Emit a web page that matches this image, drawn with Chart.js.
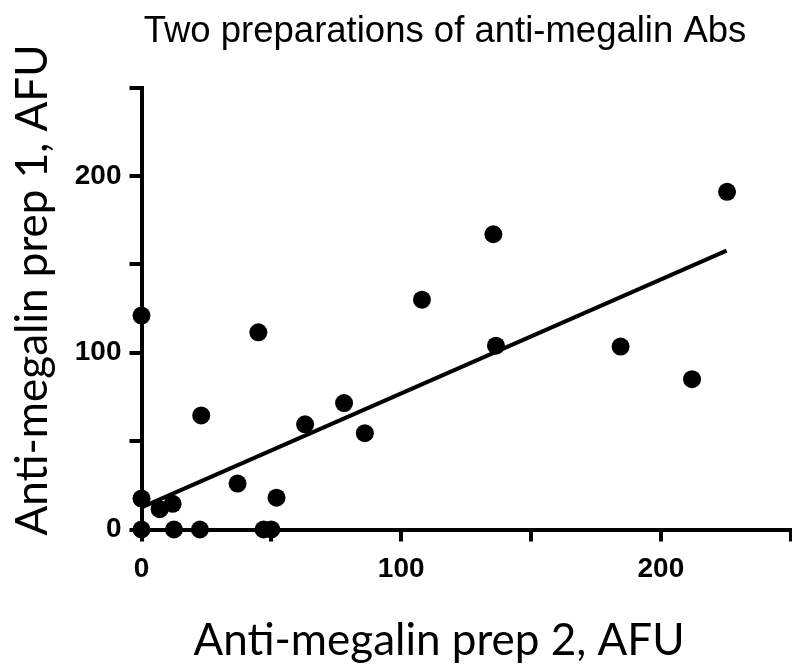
<!DOCTYPE html>
<html>
<head>
<meta charset="utf-8">
<script src="https://cdn.jsdelivr.net/npm/chart.js@4"></script>
<style>
  html, body { margin: 0; padding: 0; background: #fff; }
  #wrap { width: 792px; height: 667px; }
</style>
</head>
<body>
<div id="wrap"><canvas id="scatter" width="792" height="667"></canvas></div>
<script>
// prep 2 (x) vs prep 1 (y)
const prep2 = [0, 45, 23, 37, 52, 0, 7, 12, 0, 12.5, 22.5, 47, 50, 108, 136.5, 78, 63, 86, 225.5, 184.5, 212, 135.5];
const prep1 = [121, 111.5, 64.5, 26, 18, 17.5, 11.5, 14.5, 0, 0, 0, 0, 0, 130, 104, 71.5, 59.5, 54.5, 191, 103.5, 85, 167];

// fitted line end points
const fitX = [0, 225.3];
const fitY = [12.5, 157.7];

const axisMin = 0;
const axisMax = 250;
const tickStep = 50;
const labelledTicks = [0, 100, 200];

const titleText = 'Two preparations of anti-megalin Abs';
const xTitle = 'Anti-megalin prep 2, AFU';
const yTitle = 'Anti-megalin prep 1, AFU';

const points = prep2.map((x, i) => ({ x: x, y: prep1[i] }));
const fitLine = fitX.map((x, i) => ({ x: x, y: fitY[i] }));

// titles drawn by hand so they sit where the original has them
const textPlugin = {
    id: 'textPlugin',
    afterDraw(chart) {
        const ctx = chart.ctx;
        ctx.save();
        ctx.fillStyle = '#000';
        ctx.textAlign = 'center';
        ctx.textBaseline = 'alphabetic';

        ctx.font = '36.5px "Liberation Sans", Arial, sans-serif';
        ctx.fillText(titleText, 445, 42);

        ctx.font = '44px Lato, "Open Sans", sans-serif';
        ctx.fillText(xTitle, 439, 655);

        ctx.translate(47, 290);
        ctx.rotate(-Math.PI / 2);
        ctx.fillText(yTitle, 0, 0);
        ctx.restore();
    }
};

const tickFont = { family: '"Liberation Sans", Arial, sans-serif', size: 28, weight: 'bold' };

function axisOptions(isX) {
    return {
        type: 'linear',
        min: axisMin,
        max: axisMax,
        ticks: {
            stepSize: tickStep,
            color: '#000',
            font: tickFont,
            padding: isX ? 11 : 8,
            maxRotation: 0,
            autoSkip: false,
            callback: value => labelledTicks.includes(value) ? String(value) : ''
        },
        grid: {
            drawOnChartArea: false,
            drawTicks: true,
            tickLength: 12,
            tickWidth: 4,
            tickColor: '#000',
            lineWidth: 4,
            color: '#000'
        },
        border: { display: true, width: 4, color: '#000' },
        title: { display: false },
        afterFit: scale => {
            if (isX) {
                scale.height = 137.5;
                // the label padding would otherwise eat into the right edge
                scale.paddingLeft = 0;
                scale.paddingRight = 0;
            } else {
                scale.width = 141.5;
            }
        }
    };
}

new Chart(document.getElementById('scatter'), {
    type: 'scatter',
    data: {
        datasets: [
            {
                label: 'samples',
                data: points,
                backgroundColor: '#000',
                borderColor: '#000',
                borderWidth: 0,
                pointRadius: 9,
                pointHoverRadius: 9,
                clip: false
            },
            {
                type: 'line',
                label: 'fit',
                data: fitLine,
                borderColor: '#000',
                borderWidth: 4,
                pointRadius: 0,
                fill: false,
                tension: 0,
                clip: false
            }
        ]
    },
    options: {
        responsive: false,
        animation: false,
        layout: { autoPadding: false, padding: { top: 87.5, right: 1.3, bottom: 0, left: 0 } },
        plugins: {
            legend: { display: false },
            title: { display: false },
            tooltip: { enabled: false }
        },
        scales: {
            x: axisOptions(true),
            y: axisOptions(false)
        }
    },
    plugins: [textPlugin]
});
</script>
</body>
</html>
